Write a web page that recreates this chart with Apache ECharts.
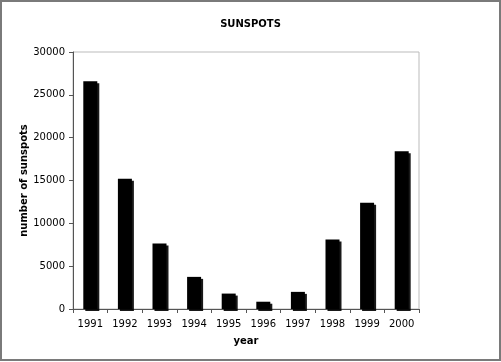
<!DOCTYPE html>
<html>
<head>
<meta charset="utf-8">
<script src="https://cdn.jsdelivr.net/npm/echarts@6/dist/echarts.min.js"></script>
<style>
  html, body { margin: 0; padding: 0; background: #fff; }
  #chart { width: 501px; height: 362px; }
</style>
</head>
<body>
<div id="chart"></div>
<script>
// Yearly sunspot counts
const years = ['1991', '1992', '1993', '1994', '1995', '1996', '1997', '1998', '1999', '2000'];
const sunspots = [26600, 15200, 7650, 3750, 1800, 850, 2000, 8100, 12400, 18400];
const yTicks = { min: 0, max: 30000, step: 5000 };

const FONT = '"DejaVu Sans", Verdana, sans-serif';

const chart = echarts.init(document.getElementById('chart'), null, { renderer: 'canvas' });
chart.setOption({
  animation: false,
  backgroundColor: '#fff',
  title: {
    text: 'SUNSPOTS',
    left: 'center',
    top: 14,
    textStyle: { fontFamily: FONT, fontSize: 10, fontWeight: 'bold', color: '#000' }
  },
  graphic: [{
    type: 'rect',
    silent: true,
    shape: { x: 1, y: 1, width: 499, height: 359 },
    style: { fill: null, stroke: '#7a7a7a', lineWidth: 2 }
  }],
  grid: {
    left: 73, top: 52, right: 82, bottom: 53,
    show: true, borderColor: '#bbbbbb', borderWidth: 1
  },
  xAxis: {
    type: 'category',
    data: years,
    boundaryGap: true,
    name: 'year',
    nameLocation: 'middle',
    nameGap: 27,
    nameMoveOverlap: false,
    nameTextStyle: { fontFamily: FONT, fontSize: 10, fontWeight: 'bold', color: '#000' },
    axisLine: { lineStyle: { color: '#555', width: 1 } },
    axisTick: { show: true, alignWithLabel: false, length: 4, lineStyle: { color: '#555' } },
    axisLabel: { fontFamily: FONT, fontSize: 10, color: '#000', margin: 10 },
    splitLine: { show: false }
  },
  yAxis: {
    type: 'value',
    min: yTicks.min,
    max: yTicks.max,
    interval: yTicks.step,
    name: 'number of sunspots',
    nameLocation: 'middle',
    nameGap: 44,
    nameRotate: 90,
    nameMoveOverlap: false,
    nameTextStyle: { fontFamily: FONT, fontSize: 10, fontWeight: 'bold', color: '#000' },
    axisLine: { show: true, lineStyle: { color: '#555', width: 1 } },
    axisTick: { show: true, length: 4, lineStyle: { color: '#555' } },
    axisLabel: {
      fontFamily: FONT, fontSize: 10, color: '#000', margin: 8,
      formatter: function (v) { return String(v); }
    },
    splitLine: { show: false }
  },
  series: [{
    type: 'bar',
    data: sunspots,
    barWidth: 14,
    itemStyle: {
      color: '#000',
      shadowColor: 'rgba(0,0,0,0.9)',
      shadowBlur: 0,
      shadowOffsetX: 2,
      shadowOffsetY: 2
    }
  }]
});
</script>
</body>
</html>
